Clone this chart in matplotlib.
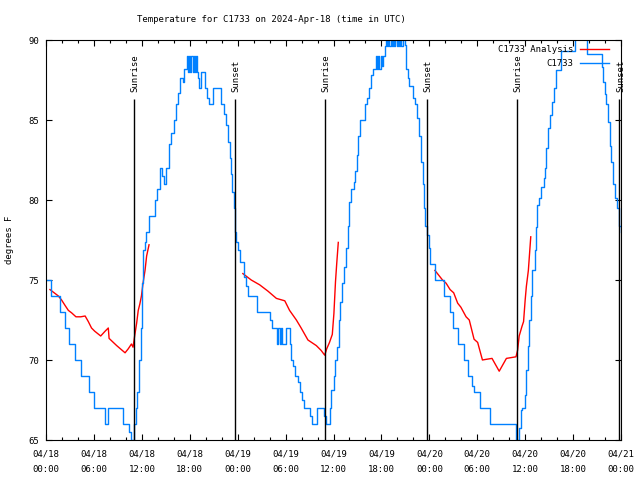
import numpy as np
import matplotlib
matplotlib.use("Agg")
import matplotlib.pyplot as plt

plt.rcParams['font.family'] = ['DejaVu Sans Mono']
FS = 6.5

# hours since 2024-04-18 00:00 UTC
blue_hours = [0.0, 0.6, 1.8, 2.35, 2.9, 3.6, 4.35, 5.4, 6.05, 7.4, 7.8, 9.6, 10.4, 10.7,
              11.05, 11.3, 11.4, 11.6, 11.85, 12.0, 12.2, 12.4, 12.5, 12.85, 13.6, 13.9,
              14.25, 14.5, 14.75, 15.0, 15.4, 15.6, 16.0, 16.3, 16.5, 16.75, 17.1, 17.3,
              17.6, 17.75, 17.9, 18.05, 18.2, 18.35, 18.5, 18.65, 18.75, 18.9, 19.0, 19.2,
              19.45, 19.9, 20.2, 20.4, 20.85, 21.9, 22.3, 22.55, 22.75, 23.0, 23.2, 23.35,
              23.5, 23.65, 23.85, 24.0, 24.3, 24.75, 25.1, 25.25, 26.4, 28.1, 28.3, 28.95,
              29.1, 29.3, 29.45, 29.6, 30.1, 30.6, 30.7, 30.9, 31.2, 31.5, 31.75, 32.0,
              32.25, 33.1, 33.25, 33.9, 34.85, 35.0, 35.5, 35.7, 36.0, 36.2, 36.4, 36.65,
              36.85, 37.05, 37.3, 37.55, 37.8, 38.0, 38.2, 38.55, 38.7, 38.9, 39.1, 39.35,
              39.9, 40.0, 40.2, 40.4, 40.7, 40.9, 41.3, 41.45, 41.6, 41.75, 41.9, 42.05,
              42.2, 42.4, 42.55, 42.7, 42.85, 43.0, 43.15, 43.3, 43.45, 43.6, 43.75, 43.9,
              44.05, 44.2, 44.35, 44.5, 44.65, 44.8, 44.95, 45.1, 45.3, 45.4, 46.0, 46.25,
              46.5, 46.75, 46.95, 47.15, 47.3, 47.5, 47.65, 47.9, 48.1, 48.65, 49.8, 50.6,
              51.0, 51.6, 52.4, 52.9, 53.4, 53.6, 54.3, 55.6, 58.8, 58.9, 59.25, 59.45,
              59.65, 60.0, 60.15, 60.3, 60.5, 60.7, 60.9, 61.2, 61.3, 61.5, 61.75, 61.95,
              62.4, 62.5, 62.65, 62.9, 63.1, 63.3, 63.55, 63.8, 64.5, 66.2, 67.8, 69.6,
              69.8, 69.95, 70.15, 70.4, 70.6, 70.8, 71.05, 71.2, 71.55, 71.75, 72.0]
blue_temps = [75, 74, 73, 72, 71, 70, 69, 68, 67, 66, 67, 66, 65.5, 65,
              66, 67, 68, 70, 72, 74.8, 76.9, 77.4, 78, 79, 80, 80.7,
              82, 81.5, 81, 82, 83.5, 84.2, 85, 86, 86.7, 87.6, 87.4, 88.2,
              89, 88, 89, 88, 89, 88, 89, 88, 89, 88, 87.6, 87,
              88, 87, 86.4, 86, 87, 86, 85.4, 84.7, 83.6, 82.6, 81.6, 80.5,
              79.5, 78, 77.4, 76.9, 76.1, 75.2, 74.6, 74, 73, 72.5, 72, 71,
              72, 71, 72, 71, 72, 71, 70, 69.6, 69, 68.6, 68, 67.5,
              67, 66.5, 66, 67, 66.5, 66, 67, 68.1, 69, 70, 70.8, 72.5,
              73.6, 74.8, 75.8, 77, 78.4, 79.9, 80.7, 81.1, 81.8, 82.8, 84, 85,
              85.3, 86, 86.4, 87, 87.8, 88.2, 89, 88.2, 89, 88.2, 89, 88.4,
              89, 89.6, 90.5, 89.6, 90.5, 89.6, 90.5, 89.6, 90.5, 89.6, 90.5, 89.6,
              90.5, 89.6, 90.5, 89.6, 90.5, 90.5, 89.7, 88.2, 87.6, 87.1, 86.4, 86,
              85.1, 84, 82.4, 81, 79.5, 78.4, 77.8, 77, 76, 75, 74, 73,
              72, 71, 70, 69, 68.4, 68, 67, 66, 65.3, 65, 65.75, 66.9,
              67, 67.8, 69.4, 70.9, 72.5, 74, 75.6, 76.9, 78.3, 79.7, 80.1, 80.8,
              81.4, 82, 83.25, 84.5, 85.3, 86.1, 87, 88.1, 89.3, 91, 89.1, 88.3,
              87.4, 86.6, 86, 84.9, 83.4, 82.4, 81, 80.1, 79.5, 78.4, 78]

red_hours_1 = [0.5, 1.55, 1.95, 2.4, 2.8, 3.2, 3.75, 4.35, 4.9, 5.3, 5.7, 6.1, 6.85, 7.4,
               7.8, 7.9, 8.85, 9.9, 10.3, 10.7, 10.9, 11.1, 11.35, 11.55, 11.75, 11.95,
               12.15, 12.4, 12.6, 12.9]
red_temps_1 = [74.4, 74, 73.75, 73.4, 73.1, 72.95, 72.7, 72.7, 72.75, 72.4, 72, 71.8, 71.5,
               71.8, 72, 71.35, 70.9, 70.45, 70.7, 71.0, 70.8, 71.5, 72.3, 73.1, 73.5, 74,
               74.8, 75.6, 76.5, 77.2]
red_hours_2 = [24.65, 25.7, 26.75, 27.8, 28.85, 29.9, 30.5, 31.35, 31.95, 32.8, 33.85, 34.45,
               34.9, 35.15, 35.5, 35.85, 36.05, 36.25, 36.4, 36.6]
red_temps_2 = [75.4, 75, 74.7, 74.3, 73.85, 73.7, 73.1, 72.5, 72, 71.25, 70.9, 70.6, 70.3,
               70.7, 71.1, 71.6, 72.9, 74.9, 76, 77.35]
red_hours_3 = [48.7, 49.65, 50.1, 50.6, 51.05, 51.55, 51.95, 52.6, 53.0, 53.6, 54.05, 54.65,
               55.1, 55.85, 56.75, 57.65, 58.85, 59.05, 59.25, 59.6, 59.8, 60.0, 60.15,
               60.4, 60.7]
red_temps_3 = [75.6, 75.0, 74.8, 74.4, 74.2, 73.55, 73.3, 72.7, 72.5, 71.3, 71.1, 70, 70.04,
               70.1, 69.3, 70.1, 70.2, 70.6, 71.5, 72.1, 72.4, 73.75, 74.6, 75.6, 77.7]

sun_hours = [11.0, 23.65, 34.95, 47.7, 58.95, 71.8]
sun_labels = ['Sunrise', 'Sunset', 'Sunrise', 'Sunset', 'Sunrise', 'Sunset']

xtick_hours = list(range(0, 73, 6))
xtick_labels = ['04/18\n00:00', '04/18\n06:00', '04/18\n12:00', '04/18\n18:00',
                '04/19\n00:00', '04/19\n06:00', '04/19\n12:00', '04/19\n18:00',
                '04/20\n00:00', '04/20\n06:00', '04/20\n12:00', '04/20\n18:00',
                '04/21\n00:00']

red_h = red_hours_1 + [np.nan] + red_hours_2 + [np.nan] + red_hours_3
red_t = red_temps_1 + [np.nan] + red_temps_2 + [np.nan] + red_temps_3

fig = plt.figure(figsize=(6.4, 4.8), dpi=100)
ax = fig.add_axes([46/640, 40/480, 575/640, 400/480])

ax.plot(red_h, red_t, color='#ff0000', lw=1.0, label='C1733 Analysis')
ax.plot(blue_hours, blue_temps, color='#0080ff', lw=1.0, drawstyle='steps-post',
        label='C1733')

ax.vlines(sun_hours, 65, 86.3, color='black', lw=1.0)
for h, lab in zip(sun_hours, sun_labels):
    ax.text(h + 0.15, 86.75, lab, rotation=90, ha='center', va='bottom', fontsize=FS)

ax.set_xlim(0, 72)
ax.set_ylim(65, 90)
ax.set_xticks(xtick_hours)
ax.set_xticklabels(xtick_labels, fontsize=FS, linespacing=1.95)
ax.set_xticks(range(0, 73, 2), minor=True)
ax.set_yticks([65, 70, 75, 80, 85, 90])
ax.tick_params(axis='y', labelsize=FS)
ax.tick_params(which='both', direction='in', top=True, right=True, width=0.8)
ax.tick_params(which='major', length=4.5)
ax.tick_params(which='minor', length=2.5)
ax.tick_params(axis='x', pad=7)
ax.tick_params(axis='y', pad=5)
for s in ax.spines.values():
    s.set_linewidth(0.8)

fig.text(271/640, 1 - 20/480, 'Temperature for C1733 on 2024-Apr-18 (time in UTC)',
         ha='center', va='center', fontsize=FS)
fig.text(10/640, 0.5, 'degrees F', rotation=90, ha='center', va='center', fontsize=FS)

ax.legend(loc='upper right', bbox_to_anchor=(0.989, 1.0), frameon=False, markerfirst=False,
          fontsize=FS, handlelength=3.2, handletextpad=0.8, labelspacing=0.55,
          borderpad=0.6, borderaxespad=0.0)

fig.savefig('out.png', dpi=100)
